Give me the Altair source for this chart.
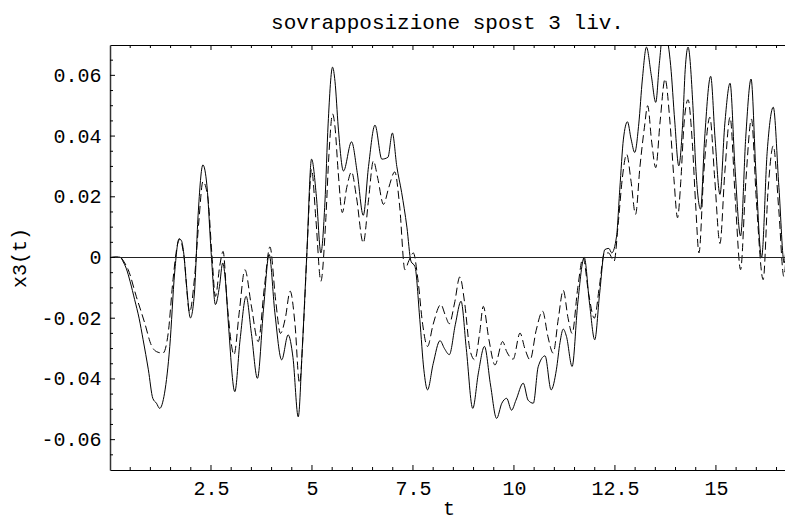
import altair as alt
import pandas as pd

# ---- data ----
t_solid = [0.00, 0.15, 0.25, 0.33, 0.40, 0.50, 0.61, 0.72, 0.82, 0.95, 1.06, 1.15, 1.23, 1.35, 1.48,
           1.60, 1.71, 1.77, 1.82, 1.90, 1.99, 2.09, 2.18, 2.30, 2.40, 2.51, 2.61, 2.71, 2.79, 2.86,
           2.93, 3.09, 3.22, 3.37, 3.50, 3.65, 3.80, 3.94, 4.08, 4.25, 4.41, 4.53, 4.66, 4.76, 4.87,
           4.99, 5.11, 5.22, 5.32, 5.40, 5.51, 5.57, 5.65, 5.78, 5.98, 6.12, 6.27, 6.40, 6.56, 6.73,
           6.88, 6.99, 7.10, 7.22, 7.35, 7.45, 7.55, 7.67, 7.77, 7.86, 8.00, 8.17, 8.28, 8.40, 8.55,
           8.69, 8.82, 8.98, 9.12, 9.27, 9.42, 9.57, 9.70, 9.82, 9.94, 10.05, 10.23, 10.35, 10.48,
           10.60, 10.77, 10.92, 11.05, 11.14, 11.22, 11.30, 11.44, 11.58, 11.74, 11.87, 12.00, 12.12,
           12.25, 12.35, 12.42, 12.54, 12.62, 12.71, 12.81, 12.90, 12.99, 13.09, 13.18, 13.28, 13.40,
           13.51, 13.60, 13.70, 13.82, 13.88, 13.98, 14.08, 14.18, 14.24, 14.31, 14.43, 14.50, 14.62,
           14.72, 14.87, 14.98, 15.10, 15.22, 15.35, 15.47, 15.61, 15.74, 15.87, 15.99, 16.13, 16.27,
           16.42, 16.56, 16.69, 16.81, 16.91]
x_solid = [0.0, 0.0002, 0.0001, -0.0015, -0.0035, -0.008, -0.0139, -0.020, -0.0271, -0.037, -0.0464,
           -0.048, -0.0497, -0.0447, -0.0293, -0.0051, 0.0062, 0.0055, 0.002, -0.010, -0.0199, -0.0117,
           0.0137, 0.0305, 0.0236, 0.0004, -0.0155, -0.0095, -0.0018, -0.008, -0.0216, -0.0442, -0.0271,
           -0.0128, -0.025, -0.0398, -0.017, 0.001, -0.018, -0.0337, -0.0255, -0.033, -0.0525, -0.030,
           0.0004, 0.0324, 0.020, 0.0015, 0.018, 0.044, 0.0627, 0.058, 0.043, 0.0285, 0.0381, 0.028,
           0.0139, 0.030, 0.0436, 0.0324, 0.033, 0.041, 0.030, 0.0214, 0.010, -0.0012, -0.003, -0.0205,
           -0.037, -0.0436, -0.035, -0.0274, -0.030, -0.032, -0.022, -0.0144, -0.030, -0.0497, -0.038,
           -0.0293, -0.042, -0.053, -0.048, -0.0464, -0.0503, -0.047, -0.0414, -0.047, -0.048, -0.036,
           -0.0324, -0.0436, -0.037, -0.028, -0.0236, -0.026, -0.0359, -0.015, 0.0, -0.015, -0.0271,
           -0.012, 0.0026, 0.003, 0.0015, 0.007, 0.0225, 0.039, 0.0447, 0.039, 0.0346, 0.044, 0.0588,
           0.0693, 0.060, 0.0511, 0.064, 0.075, 0.070, 0.0632, 0.045, 0.0302, 0.045, 0.062, 0.0693,
           0.050, 0.030, 0.0159, 0.039, 0.0597, 0.039, 0.0208, 0.044, 0.0574, 0.030, 0.0071, 0.040,
           0.0588, 0.028, 0.0, 0.035, 0.0495, 0.023, -0.0018, 0.022, 0.0346]

t_dash = [0.00, 0.25, 0.35, 0.45, 0.65, 0.86, 1.02, 1.15, 1.31, 1.44, 1.56, 1.68, 1.73, 1.83, 1.97,
          2.09, 2.20, 2.30, 2.42, 2.52, 2.61, 2.72, 2.80, 2.90, 3.07, 3.20, 3.34, 3.50, 3.67, 3.82,
          3.96, 4.10, 4.22, 4.34, 4.46, 4.58, 4.69, 4.80, 4.89, 4.99, 5.10, 5.22, 5.34, 5.42, 5.51,
          5.57, 5.65, 5.75, 5.86, 5.98, 6.10, 6.27, 6.40, 6.52, 6.63, 6.77, 6.90, 7.05, 7.17, 7.30,
          7.40, 7.51, 7.62, 7.74, 7.86, 8.00, 8.19, 8.30, 8.40, 8.53, 8.66, 8.78, 8.91, 9.03, 9.15,
          9.24, 9.38, 9.53, 9.72, 9.82, 9.98, 10.15, 10.27, 10.40, 10.55, 10.71, 10.84, 10.97, 11.10,
          11.22, 11.34, 11.44, 11.58, 11.71, 11.85, 11.99, 12.12, 12.24, 12.34, 12.48, 12.58, 12.68,
          12.79, 12.90, 13.01, 13.12, 13.23, 13.31, 13.41, 13.51, 13.62, 13.74, 13.86, 13.96, 14.05,
          14.13, 14.21, 14.31, 14.41, 14.50, 14.58, 14.70, 14.85, 14.97, 15.10, 15.22, 15.35, 15.48,
          15.61, 15.74, 15.88, 16.00, 16.17, 16.29, 16.42, 16.56, 16.68, 16.79, 16.91]
x_dash = [0.0, 0.0001, -0.0015, -0.004, -0.0128, -0.0216, -0.0288, -0.031, -0.0315, -0.025, -0.0073,
          0.0048, 0.006, 0.0005, -0.018, -0.007, 0.012, 0.025, 0.020, 0.0015, -0.0128, -0.0025, 0.002,
          -0.015, -0.032, -0.018, -0.004, -0.016, -0.0277, -0.010, 0.0035, -0.014, -0.025, -0.020,
          -0.0111, -0.022, -0.0414, -0.020, 0.006, 0.029, 0.012, -0.0078, 0.012, 0.034, 0.0473, 0.043,
          0.028, 0.0148, 0.023, 0.0282, 0.020, 0.0048, 0.019, 0.0318, 0.026, 0.0175, 0.023, 0.0282,
          0.017, -0.004, -0.001, 0.0015, -0.007, -0.022, -0.0293, -0.022, -0.0155, -0.019, -0.0218,
          -0.015, -0.0064, -0.015, -0.0304, -0.0337, -0.025, -0.0161, -0.027, -0.0354, -0.0277, -0.031,
          -0.0335, -0.0249, -0.030, -0.0337, -0.024, -0.0177, -0.026, -0.0315, -0.020, -0.0108, -0.020,
          -0.025, -0.010, 0.0, -0.012, -0.020, -0.009, 0.0015, 0.0015, -0.0012, 0.011, 0.0258, 0.034,
          0.025, 0.0142, 0.030, 0.0429, 0.050, 0.038, 0.0296, 0.045, 0.0588, 0.045, 0.026, 0.0131,
          0.025, 0.044, 0.052, 0.039, 0.017, 0.0015, 0.028, 0.0462, 0.026, 0.0046, 0.028, 0.0462,
          0.019, -0.004, 0.025, 0.0456, 0.019, -0.0073, 0.022, 0.0368, 0.015, -0.0062, 0.010, 0.026]

x_major_ticks = [2.5, 5, 7.5, 10, 12.5, 15]
x_minor_ticks = [0.5, 1, 1.5, 2, 3, 3.5, 4, 4.5, 5.5, 6, 6.5, 7, 8, 8.5, 9, 9.5, 10.5, 11, 11.5, 12,
                 13, 13.5, 14, 14.5, 15.5, 16, 16.5]
y_major_ticks = [-0.06, -0.04, -0.02, 0, 0.02, 0.04, 0.06]
y_minor_ticks = [-0.065, -0.055, -0.05, -0.045, -0.035, -0.03, -0.025, -0.015, -0.01, -0.005,
                 0.005, 0.01, 0.015, 0.025, 0.03, 0.035, 0.045, 0.05, 0.055, 0.065]

title_text = "sovrapposizione spost 3 liv."
x_title = "t"
y_title = "x3(t)"
x_domain = [0, 16.71]
y_domain = [-0.07, 0.07]

# ---- chart ----
FONT = "Liberation Mono"
W, H = 675, 425

solid_df = pd.DataFrame({"t": t_solid, "x3": x_solid})
dash_df = pd.DataFrame({"t": t_dash, "x3": x_dash})
xmaj_df = pd.DataFrame({"t": x_major_ticks})
xmin_df = pd.DataFrame({"t": x_minor_ticks})
ymaj_df = pd.DataFrame({"v": y_major_ticks})
ymin_df = pd.DataFrame({"v": y_minor_ticks})
zero_df = pd.DataFrame({"v": [0]})

xs = alt.Scale(domain=x_domain, nice=False, zero=False)
ys = alt.Scale(domain=y_domain, nice=False, zero=False)

bottom_axis = alt.Axis(
    orient="bottom", values=x_major_ticks, labelExpr="datum.value + ''",
    ticks=False, tickSize=0, grid=False, labelPadding=24, labelBaseline="alphabetic",
    labelFont=FONT, labelFontSize=20, labelColor="black", labelFlush=False,
    domainColor="black", domainWidth=1,
    title=x_title, titleFont=FONT, titleFontSize=20, titleFontWeight="normal", titleColor="black",
    titleBaseline="alphabetic", titleY=44, titleX=W / 2 + 1, titleAlign="center",
)
left_axis = alt.Axis(
    orient="left", values=y_major_ticks,
    labelExpr="datum.value == 0 ? '0' : (datum.value < 0 ? '-' : '') + format(abs(datum.value), '.2f')",
    ticks=False, tickSize=0, grid=False, labelPadding=9,
    labelFont=FONT, labelFontSize=20, labelColor="black", labelFlush=False,
    domainColor="#333333", domainWidth=1.5,
    title=y_title, titleFont=FONT, titleFontSize=20, titleFontWeight="normal", titleColor="black",
    titleAngle=270, titleBaseline="middle", titleAlign="center", titleX=-91, titleY=H / 2,
)
top_axis = alt.Axis(orient="top", labels=False, ticks=False, tickSize=0, grid=False,
                    domainColor="black", domainWidth=1, title=None)

solid = alt.Chart(solid_df).mark_line(color="black", strokeWidth=1, interpolate="monotone", clip=True).encode(
    x=alt.X("t:Q", scale=xs, axis=bottom_axis),
    y=alt.Y("x3:Q", scale=ys, axis=left_axis),
    order="t:Q",
)
dashed = alt.Chart(dash_df).mark_line(color="black", strokeWidth=1, interpolate="monotone",
                                      strokeDash=[8, 4], clip=True).encode(
    x=alt.X("t:Q", scale=xs, axis=None),
    y=alt.Y("x3:Q", scale=ys, axis=None),
    order="t:Q",
)
zero_line = alt.Chart(zero_df).mark_rule(color="#222222", strokeWidth=1).encode(
    y=alt.Y("v:Q", scale=ys, axis=None)
)

def xticks(df, y0, y1, axis=None):
    return alt.Chart(df).mark_rule(color="black", strokeWidth=1).encode(
        x=alt.X("t:Q", scale=xs, axis=axis), y=alt.value(y0), y2=alt.value(y1))

def yticks(df, length):
    return alt.Chart(df).mark_rule(color="black", strokeWidth=1).encode(
        y=alt.Y("v:Q", scale=ys, axis=None), x=alt.value(0), x2=alt.value(length))

layers = [
    solid, dashed, zero_line,
    xticks(xmaj_df, H, H - 5), xticks(xmin_df, H, H - 3),
    xticks(xmaj_df, 0, 5, axis=top_axis), xticks(xmin_df, 0, 3),
    yticks(ymaj_df, 5), yticks(ymin_df, 3),
]

chart = alt.layer(*layers).resolve_axis(x="independent", y="independent").properties(
    width=W, height=H,
    autosize=alt.AutoSizeParams(type="none"),
    padding={"left": 102, "top": 37, "right": 0, "bottom": 52},
    title=alt.TitleParams(title_text, font=FONT, fontSize=21, fontWeight="normal", color="black",
                          anchor="middle", frame="group", baseline="alphabetic", offset=15, dy=20),
    background="white",
).configure_view(stroke=None)

chart.save("out.html", embed_options={"renderer": "svg", "actions": False})
